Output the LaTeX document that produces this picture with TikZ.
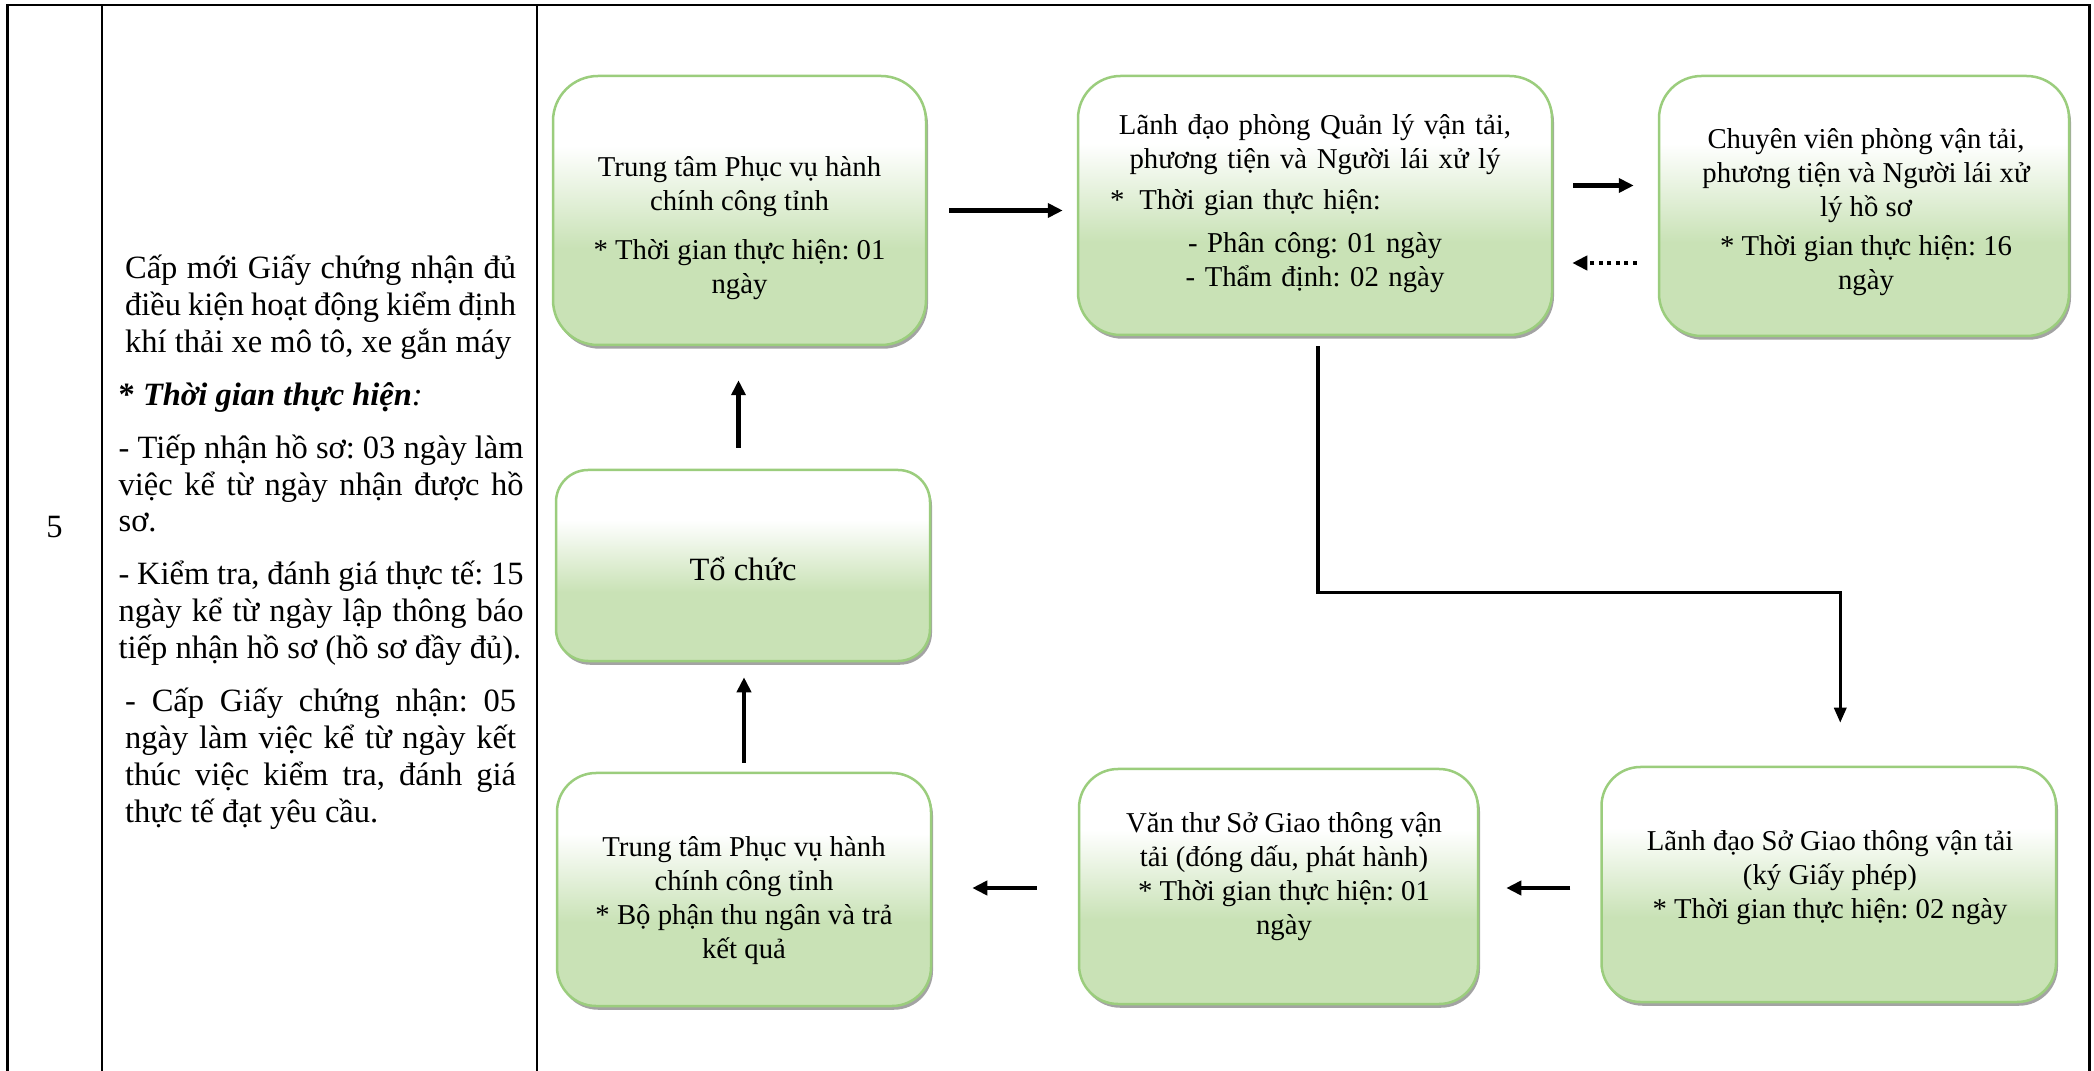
\documentclass[tikz,border=0pt]{standalone}
\usepackage{fontspec}
\setmainfont{Liberation Serif}
\usetikzlibrary{arrows.meta,calc,shadows}
\definecolor{boxgreen}{RGB}{201,226,182}
\definecolor{boxline}{RGB}{155,205,125}
\pgfdeclareverticalshading{boxfill}{100bp}{color(0bp)=(boxgreen); color(43bp)=(boxgreen); color(62bp)=(white); color(100bp)=(white)}
\frenchspacing

\begin{document}
\begin{tikzpicture}[x=0.4pt,y=-0.4pt,line width=0.9pt,>={Triangle[length=6pt,width=5.6pt]},
box/.style={draw=boxline,line width=1pt,rounded corners=#1,shading=boxfill,inner sep=0pt,
 drop shadow={shadow xshift=0.8pt,shadow yshift=-1.5pt,fill=black!60,opacity=0.6}},
box/.default=17pt,
txt/.style={align=center,inner sep=0pt,font=\fontsize{11.5}{13.6}\selectfont},
link/.style={->,line width=1.7pt}]
\useasboundingbox (0,0) rectangle (2094,1071);
\draw (7.5,1071)--(7.5,5.3)--(2089.5,5.3)--(2089.5,1071);
\draw (102,5.3)--(102,1071) (537,5.3)--(537,1071);
\node[font=\fontsize{13}{15}\selectfont] (num) at (54.5,527) {5};
\node[anchor=north west,text width=162pt,align=justify,inner sep=0pt,font=\fontsize{13}{14.75}\selectfont] (mota) at (117.5,254)
{\setlength{\parskip}{6.4pt}\parindent=0pt
{\leftskip=2.6pt\rightskip=3pt Cấp mới Giấy chứng nhận đủ\linebreak điều kiện hoạt động kiểm định\linebreak khí thải xe mô tô, xe gắn máy\par}
\textbf{* \textit{Thời gian thực hiện}}\textit{:}\par
- Tiếp nhận hồ sơ: 03 ngày làm\linebreak việc kể từ ngày nhận được hồ\linebreak sơ.\par
- Kiểm tra, đánh giá thực tế: 15\linebreak ngày kể từ ngày lập thông báo\linebreak tiếp nhận hồ sơ (hồ sơ đầy đủ).\par
{\leftskip=2.6pt\rightskip=3pt - Cấp Giấy chứng nhận: 05\linebreak ngày làm việc kể từ ngày kết\linebreak thúc việc kiểm tra, đánh giá\linebreak thực tế đạt yêu cầu.\par}};
\node[box=18pt,minimum width=149.2pt,minimum height=107.6pt] (tt1) at (739.5,210.5) {};
\node[box,minimum width=189.6pt,minimum height=103.6pt] (ld1) at (1315,205.5) {};
\node[box,minimum width=164pt,minimum height=104pt] (cv1) at (1864,206) {};
\node[box=12.8pt,minimum width=149.6pt,minimum height=76.4pt] (tc1) at (743,565.5) {};
\node[box=15.6pt,minimum width=149.6pt,minimum height=93.2pt] (tt2) at (744,889.5) {};
\node[box=15.6pt,minimum width=159.6pt,minimum height=94pt] (vt1) at (1278.5,886.5) {};
\node[box=15.6pt,minimum width=181.8pt,minimum height=94pt] (ls1) at (1828.75,884.5) {};
\node[txt] (tt1x) at (739.5,228) {Trung tâm Phục vụ hành\\chính công tỉnh\\[6pt]* Thời gian thực hiện: 01\\ngày};
\node[txt,text width=182pt] (ld1x) at (1315,204) {Lãnh đạo phòng Quản lý vận tải,\\phương tiện và Người lái xử lý\\[2.8pt]\makebox[\hsize][l]{\hspace{9pt}*\hspace{6pt}Thời gian thực hiện:}\\[3.6pt]- Phân công: 01 ngày\\- Thẩm định: 02 ngày};
\node[txt] (cv1x) at (1866,212) {Chuyên viên phòng vận tải,\\phương tiện và Người lái xử\\lý hồ sơ\\[2pt]* Thời gian thực hiện: 16\\ngày};
\node[txt,font=\fontsize{13}{15}\selectfont] (tc1x) at (743,569) {Tổ chức};
\node[txt] (tt2x) at (744,901) {Trung tâm Phục vụ hành\\chính công tỉnh\\* Bộ phận thu ngân và trả\\kết quả};
\node[txt] (vt1x) at (1284,877) {Văn thư Sở Giao thông vận\\tải (đóng dấu, phát hành)\\* Thời gian thực hiện: 01\\ngày};
\node[txt] (ls1x) at (1830,878) {Lãnh đạo Sở Giao thông vận tải\\(ký Giấy phép)\\* Thời gian thực hiện: 02 ngày};
\draw[link] ($(tt1.east)+(22,0)$) -- ($(tt1.east -| ld1.west)+(-14,0)$);
\draw[link] ($(ld1.east)+(20,-20)$) -- ($(ld1.east -| cv1.west)+(-24,-20)$);
\draw[link,dash pattern=on 1.7pt off 1.7pt] ($(ld1.east -| cv1.west)+(-21,57.5)$) -- ($(ld1.east)+(19,57.5)$);
\draw[link,line width=1.3pt,-{Triangle[length=6pt,width=4.8pt]}] ($(ld1.south)+(3,10)$) -- ++(0,246) -| ($(ls1.north)+(11.5,-43)$);
\draw[link] ($(ls1.west)+(-30,3.5)$) -- ($(ls1.west -| vt1.east)+(27,3.5)$);
\draw[link] ($(vt1.west)+(-41,1.5)$) -- ($(vt1.west -| tt2.east)+(40,1.5)$);
\draw[link] ($(tt2.north)+(0,-9)$) -- ($(tt2.north |- tc1.south)+(0,15)$);
\draw[link] ($(tc1.north)+(-4.5,-21)$) -- ($(tc1.north |- tt1.south)+(-4.5,34)$);
\end{tikzpicture}
\end{document}
